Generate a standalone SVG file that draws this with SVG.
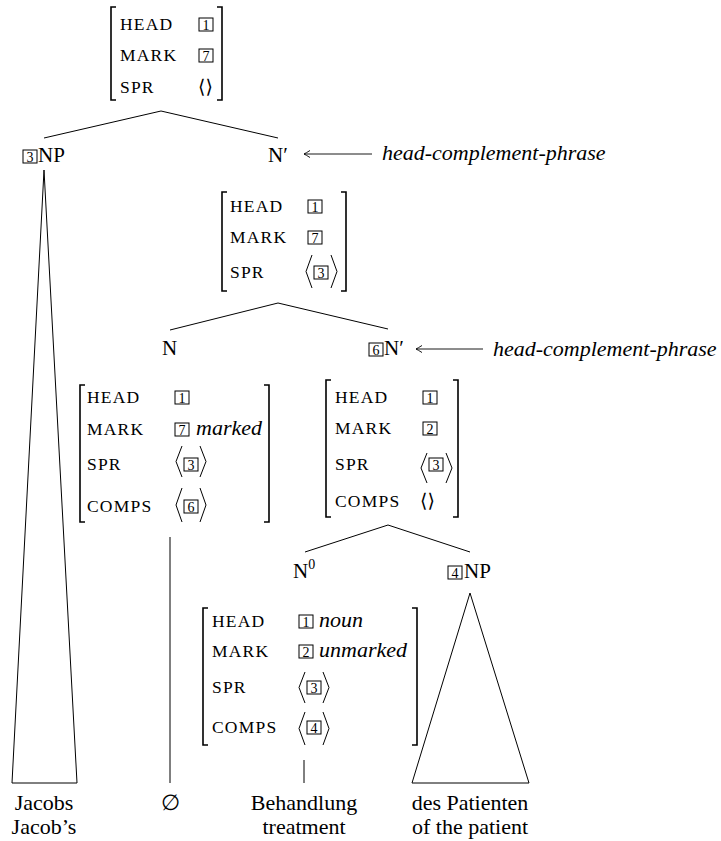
<svg xmlns="http://www.w3.org/2000/svg" width="721" height="841" viewBox="0 0 721 841" font-family="Liberation Serif">
<style>
text{font-family:'Liberation Serif','DejaVu Serif',serif;fill:#000}
.lbl{font-size:21px}
.leaf{font-size:22px;text-anchor:middle}
.it{font-size:22px;font-style:italic}
.feat{font-size:17.5px;letter-spacing:1.2px}
.num{font-size:14px;text-anchor:middle}
.emp{font-family:'DejaVu Serif',serif;font-size:19px}
.box{fill:none;stroke:#000;stroke-width:1}
.br{fill:none;stroke:#000;stroke-width:1.6}
.ang{fill:none;stroke:#000;stroke-width:1}
.ln{fill:none;stroke:#000;stroke-width:1}
.arr{fill:none;stroke:#000;stroke-width:0.9}
</style>
<g id="connectors">
<path class="ln" d="M44,138 L161,111 L278,138"/>
<path class="ln" d="M170,330 L278,303 L388,329"/>
<path class="ln" d="M305,552 L388,525 L470,552"/>
<path class="ln" d="M44,170 L12,783 L77,783 Z"/>
<path class="ln" d="M170,537 V783"/>
<path class="ln" d="M304,760 V783"/>
<path class="ln" d="M470,593 L412,783 L529,783 Z"/>
</g>
<g id="root">
<path class="br" d="M116,7 H111 V100 H116"/>
<path class="br" d="M217,7 H222 V100 H217"/>
<text class="feat" x="120" y="30">HEAD</text>
<text class="feat" x="120" y="61">MARK</text>
<text class="feat" x="120" y="93">SPR</text>
<rect class="box" x="199" y="18" width="14" height="13"/><text class="num" x="206" y="29.5">1</text>
<rect class="box" x="199" y="49" width="14" height="13"/><text class="num" x="206" y="60.5">7</text>
<text class="emp" x="198" y="93">⟨⟩</text>
</g>
<g id="np3">
<rect class="box" x="23" y="150" width="14" height="13"/><text class="num" x="30" y="161.5">3</text>
<text class="lbl" x="38" y="162">NP</text>
</g>
<g id="nbar1">
<text class="lbl" x="268" y="162">N′</text>
<path class="arr" d="M304,154 H372 M310,150.5 Q306,153 304,154 Q306,155 310,157.5"/>
<text class="it" x="382" y="160">head-complement-phrase</text>
<path class="br" d="M227,192 H222 V291 H227"/>
<path class="br" d="M341,192 H346 V291 H341"/>
<text class="feat" x="230" y="212">HEAD</text>
<text class="feat" x="230" y="243">MARK</text>
<text class="feat" x="230" y="278">SPR</text>
<rect class="box" x="308" y="200" width="14" height="13"/><text class="num" x="315" y="211.5">1</text>
<rect class="box" x="308" y="231" width="14" height="13"/><text class="num" x="315" y="242.5">7</text>
<path class="ang" d="M312,255 L306,271.5 L312,288"/>
<rect class="box" x="314" y="266" width="14" height="13"/><text class="num" x="321" y="277.5">3</text>
<path class="ang" d="M331,255 L337,271.5 L331,288"/>
</g>
<g id="n">
<text class="lbl" x="162" y="355">N</text>
<path class="br" d="M85,385 H80 V522 H85"/>
<path class="br" d="M264,385 H269 V522 H264"/>
<text class="feat" x="87" y="403">HEAD</text>
<text class="feat" x="87" y="435">MARK</text>
<text class="feat" x="87" y="470">SPR</text>
<text class="feat" x="87" y="512">COMPS</text>
<rect class="box" x="175" y="391" width="14" height="13"/><text class="num" x="182" y="402.5">1</text>
<rect class="box" x="175" y="423" width="14" height="13"/><text class="num" x="182" y="434.5">7</text>
<text class="it" x="196" y="435">marked</text>
<path class="ang" d="M182,446 L176,461.5 L182,477"/>
<rect class="box" x="184" y="458" width="14" height="13"/><text class="num" x="191" y="469.5">3</text>
<path class="ang" d="M200,446 L206,461.5 L200,477"/>
<path class="ang" d="M182,488 L176,505 L182,522"/>
<rect class="box" x="184" y="500" width="14" height="13"/><text class="num" x="191" y="511.5">6</text>
<path class="ang" d="M200,488 L206,505 L200,522"/>
</g>
<g id="nbar6">
<rect class="box" x="369" y="343" width="14" height="13"/><text class="num" x="376" y="354.5">6</text>
<text class="lbl" x="384" y="355">N′</text>
<path class="arr" d="M416,349 H483 M422,345.5 Q418,348 416,349 Q418,350 422,352.5"/>
<text class="it" x="493" y="356">head-complement-phrase</text>
<path class="br" d="M331,380 H326 V517 H331"/>
<path class="br" d="M453,380 H458 V517 H453"/>
<text class="feat" x="335" y="403">HEAD</text>
<text class="feat" x="335" y="434">MARK</text>
<text class="feat" x="335" y="470">SPR</text>
<text class="feat" x="335" y="507">COMPS</text>
<rect class="box" x="423" y="391" width="14" height="13"/><text class="num" x="430" y="402.5">1</text>
<rect class="box" x="423" y="422" width="14" height="13"/><text class="num" x="430" y="433.5">2</text>
<path class="ang" d="M427,453 L421,468 L427,483"/>
<rect class="box" x="429" y="458" width="14" height="13"/><text class="num" x="436" y="469.5">3</text>
<path class="ang" d="M446,453 L452,468 L446,483"/>
<text class="emp" x="420" y="507">⟨⟩</text>
</g>
<g id="n0">
<text class="lbl" x="293" y="578">N<tspan font-size="14" dy="-9">0</tspan></text>
<path class="br" d="M208,608 H203 V745 H208"/>
<path class="br" d="M412,608 H417 V745 H412"/>
<text class="feat" x="212" y="627">HEAD</text>
<text class="feat" x="212" y="657">MARK</text>
<text class="feat" x="212" y="693">SPR</text>
<text class="feat" x="212" y="733">COMPS</text>
<rect class="box" x="299" y="615" width="14" height="13"/><text class="num" x="306" y="626.5">1</text>
<text class="it" x="319" y="627">noun</text>
<rect class="box" x="299" y="645" width="14" height="13"/><text class="num" x="306" y="656.5">2</text>
<text class="it" x="319" y="657">unmarked</text>
<path class="ang" d="M305,672 L299,687.5 L305,703"/>
<rect class="box" x="307" y="681" width="14" height="13"/><text class="num" x="314" y="692.5">3</text>
<path class="ang" d="M323,672 L329,687.5 L323,703"/>
<path class="ang" d="M305,712 L299,728.5 L305,745"/>
<rect class="box" x="307" y="721" width="14" height="13"/><text class="num" x="314" y="732.5">4</text>
<path class="ang" d="M323,712 L329,728.5 L323,745"/>
</g>
<g id="np4">
<rect class="box" x="448" y="566" width="14" height="13"/><text class="num" x="455" y="577.5">4</text>
<text class="lbl" x="464" y="578">NP</text>
</g>
<g id="leaf-jacobs"><text class="leaf" x="44" y="810">Jacobs</text><text class="leaf" x="44" y="834">Jacob’s</text></g>
<g id="leaf-empty"><text class="leaf" x="170" y="810" font-size="18">∅</text></g>
<g id="leaf-behandlung"><text class="leaf" x="304" y="810">Behandlung</text><text class="leaf" x="304" y="834">treatment</text></g>
<g id="leaf-patienten"><text class="leaf" x="470" y="810">des Patienten</text><text class="leaf" x="470" y="834">of the patient</text></g>
</svg>
